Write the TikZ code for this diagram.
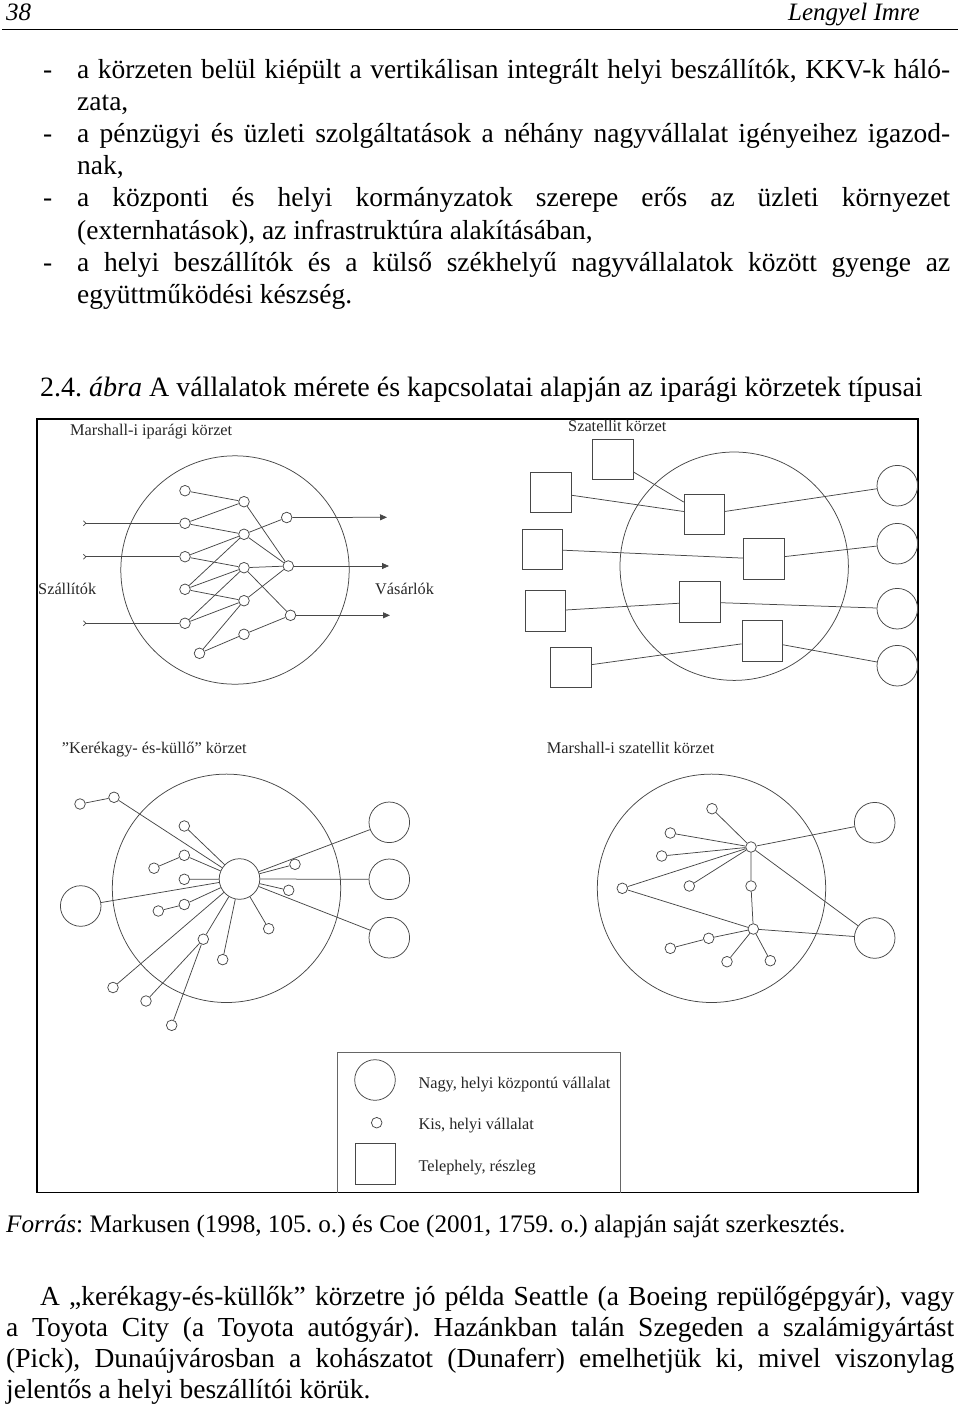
\documentclass[tikz,border=0pt]{standalone}
\usepackage{fontspec}
\setmainfont{Liberation Serif}
\usetikzlibrary{arrows.meta}
\begin{document}
\frenchspacing
\begin{tikzpicture}[x=1pt,y=-1pt,
  ln/.style={draw=black!72, line width=0.75pt},
  sm/.style={circle, draw=black!72, line width=0.75pt, minimum size=10.6pt, inner sep=0pt, fill=white},
  bg/.style={circle, draw=black!72, line width=0.75pt, minimum size=40.6pt, inner sep=0pt, fill=white},
  sq/.style={rectangle, draw=black!72, line width=0.75pt, minimum size=40.7pt, inner sep=0pt, fill=white},
  zone/.style={circle, draw=black!72, line width=0.75pt, minimum size=228.4pt, inner sep=0pt},
  lab/.style={font=\fontsize{16.3}{18}\selectfont, anchor=base west, inner sep=0pt, text=black!85},
  body/.style={font=\fontsize{27.5}{31.6}\selectfont\frenchspacing, anchor=base west, inner sep=0pt},
  small/.style={font=\fontsize{25.2}{29}\selectfont\frenchspacing, anchor=base west, inner sep=0pt},
  head/.style={font=\fontsize{25}{28}\selectfont\itshape, inner sep=0pt},
  outarr/.style={ln, -{Triangle[length=7pt,width=6pt]}},
  inarr/.style={ln, {Straight Barb[reversed,length=2.5pt,width=5pt]}-},
]
\useasboundingbox (0,0) rectangle (960,1416);

% ---------- header ----------
\node[head, anchor=base west] (pg) at (6,20) {38};
\node[head, anchor=base east] (auth) at (920,20) {Lengyel Imre};
\coordinate (rl) at (2,29.5);
\coordinate (rr) at (958,29.5);
\draw[line width=1.2pt] (rl) -- (rr);

% ---------- bullet text ----------
\node[body] (d1) at (43,78) {-};
\node[body] (t1) at (77,78) {\hbox to 873pt{a körzeten belül kiépült a vertikálisan integrált helyi beszállítók, KKV-k háló-}};
\node[body] (t2) at (77,110.2) {zata,};
\node[body] (d3) at (43,142.4) {-};
\node[body] (t3) at (77,142.4) {\hbox to 873pt{a pénzügyi és üzleti szolgáltatások a néhány nagyvállalat igényeihez igazod-}};
\node[body] (t4) at (77,174.6) {nak,};
\node[body] (d5) at (43,206.8) {-};
\node[body] (t5) at (77,206.8) {\hbox to 873pt{a központi és helyi kormányzatok szerepe erős az üzleti környezet}};
\node[body] (t6) at (77,239) {(externhatások), az infrastruktúra alakításában,};
\node[body] (d7) at (43,271.2) {-};
\node[body] (t7) at (77,271.2) {\hbox to 873pt{a helyi beszállítók és a külső székhelyű nagyvállalatok között gyenge az}};
\node[body] (t8) at (77,303.4) {együttműködési készség.};

% ---------- caption ----------
\node[body, font=\fontsize{28}{32}\selectfont, anchor=base west] (cap) at (40,396) {2.4. \textit{ábra} A vállalatok mérete és kapcsolatai alapján az iparági körzetek típusai};

% ---------- frame ----------
\draw[line width=1.4pt] (37,419) rectangle (918,1192.7);

% ===== Marshall-i iparági körzet =====
\node[lab] (ttl1) at (70,435.5) {Marshall-i iparági körzet};
\node[zone] (z1) at (235,570) {};
\node[sm] (L1) at (185,490.7) {};
\node[sm] (L2) at (185,523.3) {};
\node[sm] (L3) at (185,556.7) {};
\node[sm] (L4) at (185,589.3) {};
\node[sm] (L5) at (185,623.3) {};
\node[sm] (L6) at (199.5,653.3) {};
\node[sm] (M1) at (244,501.7) {};
\node[sm] (M2) at (244,534.3) {};
\node[sm] (M3) at (244,567.7) {};
\node[sm] (M4) at (244,600.7) {};
\node[sm] (M5) at (244,634.3) {};
\node[sm] (R1) at (286.7,517.5) {};
\node[sm] (R2) at (288.3,566) {};
\node[sm] (R3) at (290.5,615.3) {};
\draw[ln] (L1)--(M1) (L2)--(M1) (L2)--(M2) (L3)--(M2) (L3)--(M3)
  (L4)--(M2) (L4)--(M3) (L4)--(M4) (L5)--(M3) (L5)--(M4)
  (L6)--(M4) (L6)--(M5)
  (M1)--(R2) (M2)--(R1) (M2)--(R2) (M3)--(R2) (M3)--(R3) (M4)--(R2) (M5)--(R3);
\coordinate (i1) at (83,523.3);
\coordinate (i2) at (83,556.7);
\coordinate (i3) at (83,623.3);
\draw[inarr] (i1) -- (L2);
\draw[inarr] (i2) -- (L3);
\draw[inarr] (i3) -- (L5);
\coordinate (o1) at (387,517.3);
\coordinate (o2) at (389,566);
\coordinate (o3) at (390,615.3);
\draw[outarr] (R1) -- (o1);
\draw[outarr] (R2) -- (o2);
\draw[outarr] (R3) -- (o3);
\node[lab] (sz) at (38,594) {Szállítók};
\node[lab] (va) at (375,594) {Vásárlók};

% ===== Szatellit körzet =====
\node[lab] (ttl2) at (568,431.7) {Szatellit körzet};
\node[zone] (z2) at (734.2,566.2) {};
\node[sq] (S1) at (612.7,459.5) {};
\node[sq] (S2) at (551.2,492.3) {};
\node[sq] (S3) at (542.5,549.3) {};
\node[sq] (S4) at (545.5,611.2) {};
\node[sq] (S5) at (570.8,667.5) {};
\node[sq] (T1) at (704.5,514.5) {};
\node[sq] (T2) at (763.7,559) {};
\node[sq] (T3) at (699.8,602) {};
\node[sq] (T4) at (762.3,641) {};
\node[bg] (C1) at (897.3,485.7) {};
\node[bg] (C2) at (897.3,543.7) {};
\node[bg] (C3) at (897.3,608.7) {};
\node[bg] (C4) at (897.3,665.7) {};
\draw[ln] (S1)--(T1) (S2)--(T1) (S3)--(T2) (S4)--(T3) (S5)--(T4)
  (T1)--(C1) (T2)--(C2) (T3)--(C3) (T4)--(C4);

% ===== Kerékagy- és-küllő körzet =====
\node[lab] (ttl3) at (61.7,753.3) {”Kerékagy- és-küllő” körzet};
\node[zone] (z3) at (226.5,888.3) {};
\node[bg] (hub) at (239.5,879) {};
\node[bg] (KL) at (80.7,906) {};
\node[bg] (KR1) at (389.3,822.3) {};
\node[bg] (KR2) at (389.3,879.3) {};
\node[bg] (KR3) at (389.3,937.7) {};
\node[sm] (a1) at (80,804) {};
\node[sm] (a2) at (114,797.3) {};
\node[sm] (kb) at (184.3,826) {};
\node[sm] (c1) at (154,868.2) {};
\node[sm] (c2) at (184.3,855.3) {};
\node[sm] (kd) at (184.3,879.3) {};
\node[sm] (e1) at (158.3,911) {};
\node[sm] (e2) at (184.3,904.5) {};
\node[sm] (kf) at (113,987.5) {};
\node[sm] (g1) at (203.3,939.2) {};
\node[sm] (g2) at (146,1001) {};
\node[sm] (g3) at (171.7,1025.3) {};
\node[sm] (kh) at (222.7,959.6) {};
\node[sm] (ki) at (268.7,928.7) {};
\node[sm] (kj) at (295,864.3) {};
\node[sm] (kk) at (288.7,890.3) {};
\draw[ln] (a1)--(a2) (a2)--(hub) (kb)--(hub) (c1)--(c2) (c2)--(hub) (kd)--(hub)
  (e1)--(e2) (e2)--(hub) (kf)--(hub) (g1)--(hub) (g2)--(g1) (g3)--(g1)
  (kh)--(hub) (ki)--(hub) (kj)--(hub) (kk)--(hub) (KL)--(hub)
  (hub)--(KR1) (hub)--(KR2) (hub)--(KR3);

% ===== Marshall-i szatellit körzet =====
\node[lab] (ttl4) at (546.7,753.3) {Marshall-i szatellit körzet};
\node[zone] (z4) at (711.5,888.3) {};
\node[bg] (B1) at (874.7,822.7) {};
\node[bg] (B2) at (874.7,938) {};
\node[sm] (n1) at (712,808.7) {};
\node[sm] (n2) at (670.3,833) {};
\node[sm] (n3) at (661.7,856) {};
\node[sm] (hA) at (751,847) {};
\node[sm] (n4) at (622.3,888.3) {};
\node[sm] (n5) at (689.3,886) {};
\node[sm] (n6) at (751,886) {};
\node[sm] (hB) at (753.3,929) {};
\node[sm] (n7) at (708.7,938.3) {};
\node[sm] (n8) at (670.3,948.3) {};
\node[sm] (n9) at (727,961.7) {};
\node[sm] (n10) at (770.3,960.7) {};
\draw[ln] (n1)--(hA) (n2)--(hA) (n3)--(hA) (n4)--(hA) (n5)--(hA) (hA)--(n6) (n6)--(hB)
  (n4)--(hB) (hB)--(n7) (n7)--(n8) (hB)--(n9) (hB)--(n10)
  (hA)--(B1) (hA)--(B2) (hB)--(B2);

% ===== legend =====
\draw[draw=black!60, line width=0.75pt] (337.3,1192.7) |- (620,1052.7) -- (620,1192.7);
\node[bg] (lg1) at (375,1080) {};
\node[sm] (lg2) at (376.7,1122.7) {};
\node[sq] (lg3) at (375.5,1164) {};
\node[lab] (lt1) at (418.3,1088) {Nagy, helyi központú vállalat};
\node[lab] (lt2) at (418.3,1129) {Kis, helyi vállalat};
\node[lab] (lt3) at (418.3,1171) {Telephely, részleg};

% ---------- source and paragraph ----------
\node[small] (src) at (6,1232) {\textit{Forrás}: Markusen (1998, 105. o.) és Coe (2001, 1759. o.) alapján saját szerkesztés.};
\node[body] (p1) at (40,1305) {\hbox to 914pt{A „kerékagy-és-küllők” körzetre jó példa Seattle (a Boeing repülőgépgyár), vagy}};
\node[body] (p2) at (6,1336.3) {\hbox to 948pt{a Toyota City (a Toyota autógyár). Hazánkban talán Szegeden a szalámigyártást}};
\node[body] (p3) at (6,1367.6) {\hbox to 948pt{(Pick), Dunaújvárosban a kohászatot (Dunaferr) emelhetjük ki, mivel viszonylag}};
\node[body] (p4) at (6,1398.9) {jelentős a helyi beszállítói körük.};
\end{tikzpicture}
\end{document}
